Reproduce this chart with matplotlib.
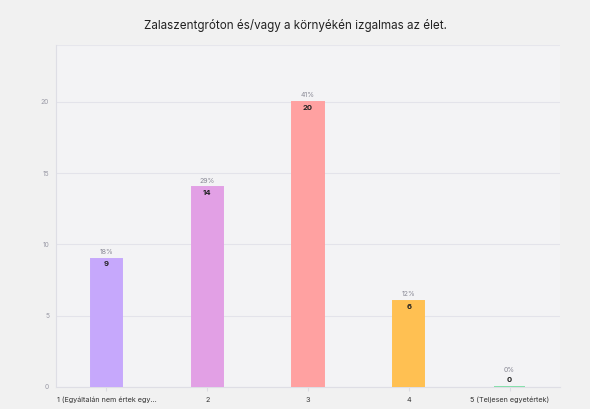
import matplotlib.pyplot as plt
import numpy as np

# answer counts per rating
categories = ["1 (Egyáltalán nem értek egy...", "2", "3", "4", "5 (Teljesen egyetértek)"]
counts = [9, 14, 20, 6, 0]
colors = ["#C6A8FC", "#E2A0E5", "#FFA1A1", "#FFC052", "#86DFAB"]
title = "Zalaszentgróton és/vagy a környékén izgalmas az élet."

plt.rcParams["font.family"] = ["Inter", "DejaVu Sans"]

fig = plt.figure(figsize=(5.9, 4.09), dpi=100, facecolor="#F1F1F1")
ax = fig.add_axes([0.095, 0.054, 0.854, 0.836])
ax.set_facecolor("#F3F3F5")

x = np.arange(len(categories))
ax.bar(x, counts, width=0.31, color=colors, edgecolor=colors, linewidth=1.4, zorder=3)

total = sum(counts)
for xi, c in zip(x, counts):
    pct = round(100 * c / total)
    ax.annotate(f"{pct}%", (xi, c), xytext=(0, 5 if c else 12), textcoords="offset points",
                ha="center", va="center", fontsize=5, color="#8A8A96")
    ax.annotate(str(c), (xi, c), xytext=(0, -4 if c else 5), textcoords="offset points",
                ha="center", va="center", fontsize=5.5, fontweight="bold", color="#222222")

ax.set_xlim(-0.5, len(categories) - 0.5)
ax.set_ylim(0, 24)
ax.set_yticks([0, 5, 10, 15, 20])
ax.set_xticks(x)
ax.set_xticklabels(categories)
ax.tick_params(axis="y", length=0, labelsize=4.8, labelcolor="#9A9AA6", pad=5)
ax.tick_params(axis="x", length=3, color="#DCDCE2", labelsize=5.2, labelcolor="#333333", pad=4)
ax.grid(axis="y", color="#E3E3EA", linewidth=0.8, zorder=0)
for side in ["top", "right"]:
    ax.spines[side].set_visible(False)
for side in ["left", "bottom"]:
    ax.spines[side].set_color("#DEDEE5")
    ax.spines[side].set_linewidth(0.8)
ax.axhline(24, color="#E6E6EC", linewidth=1.5, zorder=0)

fig.text(0.5, 0.938, title, ha="center", va="center", fontsize=8.4, color="#222222")

fig.savefig("out.png", dpi=100, facecolor=fig.get_facecolor())
